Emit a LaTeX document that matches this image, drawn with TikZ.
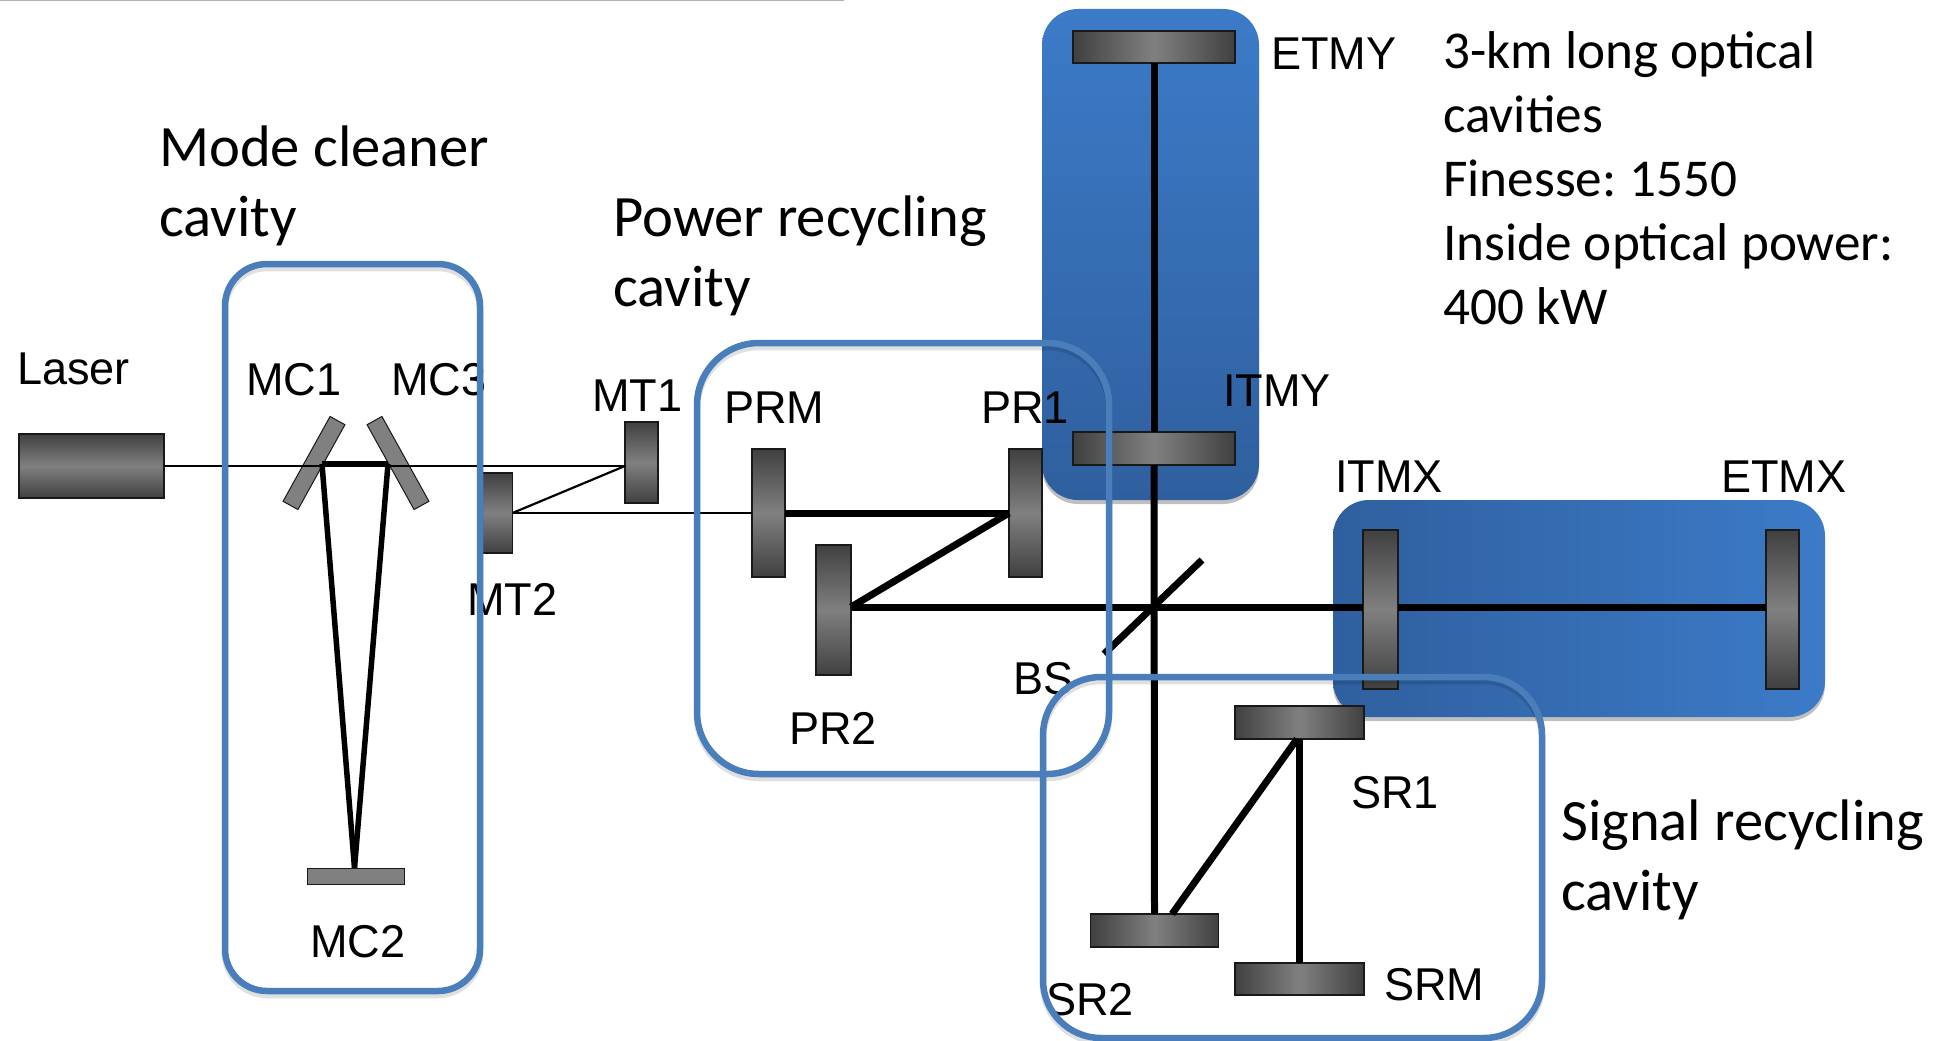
\documentclass[tikz,border=0pt]{standalone}
\usepackage{graphicx}
\usepackage{fontspec}
\setmainfont{Liberation Sans}
\newfontfamily\capfont{Carlito}
\usetikzlibrary{shadows}
\definecolor{boxblue}{HTML}{4A7EBB}
\definecolor{lightblue}{HTML}{3C7BC8}
\definecolor{darkblue}{HTML}{2F5F9E}
\definecolor{mirdark}{HTML}{404040}
\definecolor{mirmid}{HTML}{808080}
\newcommand{\lbl}[1]{\scalebox{.98}[1]{#1}}
\tikzset{
  x=1pt,y=-1pt,
  softshadow/.style={drop shadow={shadow xshift=0pt,shadow yshift=-4pt,opacity=.25,fill=black}},
  mirror/.style={draw=black!90,line width=1.5pt,inner sep=0pt,outer sep=0pt},
  vmirror/.style={mirror,top color=mirdark,bottom color=mirdark,middle color=mirmid},
  hmirror/.style={mirror,left color=mirdark,right color=mirdark,middle color=mirmid},
  flatmirror/.style={draw=black!90,line width=1pt,fill=mirmid,inner sep=0pt,outer sep=0pt},
  labeltext/.style={anchor=base west,inner sep=0pt,font=\fontsize{46}{50}\selectfont,text=black},
  captext/.style={anchor=north west,inner sep=0pt,align=left,text=black,font=\capfont\fontsize{58.6}{70}\selectfont},
  infotext/.style={anchor=north west,inner sep=0pt,align=left,text=black,font=\capfont\fontsize{53.2}{64}\selectfont},
  cavity/.style={draw=boxblue,line width=6.5pt,rounded corners=#1,fill=none},
  cavityshadow/.style={draw=black,opacity=.12,line width=6.5pt,rounded corners=#1,fill=none,shift={(0,4)}},
  bluebox/.style={draw=none,rounded corners=36pt,inner sep=0pt,softshadow},
  thinbeam/.style={draw=black,line width=2.2pt},
  medbeam/.style={draw=black,line width=5.5pt},
  thickbeam/.style={draw=black,line width=7pt},
}
\begin{document}
\begin{tikzpicture}
\useasboundingbox (0,0) rectangle (1936,1041);
\fill[white] (0,0) rectangle (1936,1041);
\draw[black!30,line width=2pt] (0,0.5) -- (844,0.5);

% shaded arm boxes
\path[bluebox,top color=lightblue,bottom color=darkblue] (1042,9) rectangle (1259,500);
\path[bluebox,left color=darkblue,right color=lightblue] (1333,500) rectangle (1825,717);

% mirrors
\node[vmirror,minimum width=145pt,minimum height=64pt] (laser) at (91.5,466) {};
\node[flatmirror,minimum width=97pt,minimum height=17pt,rotate=61] (mcone) at (314,463) {};
\node[flatmirror,minimum width=97pt,minimum height=17pt,rotate=-61] (mcthree) at (398,463) {};
\node[flatmirror,minimum width=97pt,minimum height=16pt] (mctwo) at (355.5,876) {};
\node[vmirror,minimum width=33pt,minimum height=81pt] (mtone) at (641.5,462.5) {};
\node[vmirror,minimum width=31pt,minimum height=80pt] (mttwo) at (497,513) {};
\node[vmirror,minimum width=33pt,minimum height=128pt] (prm) at (768.5,513) {};
\node[vmirror,minimum width=33pt,minimum height=128pt] (prone) at (1025.5,513) {};
\node[vmirror,minimum width=35pt,minimum height=130pt] (prtwo) at (833.5,610) {};
\node[hmirror,minimum width=162pt,minimum height=32pt] (etmy) at (1154,47) {};
\node[hmirror,minimum width=162pt,minimum height=33pt] (itmy) at (1154,448.5) {};
\node[vmirror,minimum width=35pt,minimum height=159pt] (itmx) at (1380.5,609.5) {};
\node[vmirror,minimum width=33pt,minimum height=159pt] (etmx) at (1782.5,609.5) {};
\node[hmirror,minimum width=129pt,minimum height=33pt] (srone) at (1299.5,722.5) {};
\node[hmirror,minimum width=128pt,minimum height=33pt] (srtwo) at (1154.5,930.5) {};
\node[hmirror,minimum width=129pt,minimum height=32pt] (srm) at (1299.5,979) {};

% beam points
\coordinate (mconehit) at (322,464);
\coordinate (mcthreehit) at (388,464);
\coordinate (mctwohit) at (354.5,868);
\coordinate (prtwohit) at (851,607);
\coordinate (itmxhit) at (1363,607);
\coordinate (itmxback) at (1398,607);
\coordinate (etmxhit) at (1766,607);
\coordinate (bsa) at (1202,560);
\coordinate (bsb) at (1104,654);
\coordinate (srtwohit) at (1172,914);
\coordinate (sronehit) at (1297,739);

% beams
\draw[thinbeam] (laser.east) -- (laser.east -| mtone.west);
\draw[thinbeam] (mttwo.east) -- (laser.east -| mtone.west);
\draw[thinbeam] (mttwo.east) -- (prm.west);
\draw[medbeam,line width=6pt] (mconehit) -- (mcthreehit);
\draw[medbeam] (mconehit) -- (mctwohit);
\draw[medbeam] (mcthreehit) -- (mctwohit);
\draw[thickbeam] (prm.east) -- (prone.west);
\draw[thickbeam] (prtwohit) -- (prone.west);
\draw[thickbeam] (prtwohit) -- (itmxhit);
\draw[thickbeam] (itmxback) -- (etmxhit);
\draw[thickbeam] (etmy.south) -- (itmy.north);
\draw[thickbeam] (itmy.south) -- (srtwo.north);
\draw[thickbeam] (bsa) -- (bsb);
\draw[thickbeam] (srtwohit) -- (sronehit);
\draw[thickbeam] (srone.south) -- (srm.north);

% labels
\node[labeltext] (tlaser) at (17,384) {\lbl{Laser}};
\node[labeltext] (tmcone) at (246,395) {\lbl{MC1}};
\node[labeltext] (tmcthree) at (391,395) {\lbl{MC3}};
\node[labeltext] (tmctwo) at (310,957) {\lbl{MC2}};
\node[labeltext] (tmtone) at (592,411) {\lbl{MT1}};
\node[labeltext] (tmttwo) at (467,615) {\lbl{MT2}};
\node[labeltext] (tprm) at (724,423) {\lbl{PRM}};
\node[labeltext] (tprone) at (981,423) {\lbl{PR1}};
\node[labeltext] (tprtwo) at (789,744) {\lbl{PR2}};
\node[labeltext] (tbs) at (1013,694) {\lbl{BS}};
\node[labeltext] (titmy) at (1223,406) {\lbl{ITMY}};
\node[labeltext] (tetmy) at (1271,70) {\lbl{ETMY}};
\node[labeltext] (titmx) at (1335,492) {\lbl{ITMX}};
\node[labeltext] (tetmx) at (1721,492) {\lbl{ETMX}};
\node[labeltext] (tsrone) at (1351,808) {\lbl{SR1}};
\node[labeltext] (tsrtwo) at (1046,1015) {\lbl{SR2}};
\node[labeltext] (tsrm) at (1384,1000) {\lbl{SRM}};

\node[captext] (cmode) at (159,126) {Mode cleaner\\cavity};
\node[captext] (cpower) at (613,196) {Power recycling\\cavity};
\node[captext] (csignal) at (1561,800) {Signal recycling\\cavity};
\node[infotext] (cinfo) at (1443,31) {3-km long optical\\cavities\\Finesse:\kern-3pt{} 1550\\Inside optical power:\\400 kW};

% cavity outlines
\path[cavityshadow=42pt] (225,264) rectangle (480,991);
\path[cavityshadow=62pt] (697,343) rectangle (1109,774);
\path[cavityshadow=58pt] (1043,677) rectangle (1542,1038);
\path[cavity=42pt] (225,264) rectangle (480,991);
\path[cavity=62pt] (697,343) rectangle (1109,774);
\path[cavity=58pt] (1043,677) rectangle (1542,1038);
\end{tikzpicture}
\end{document}
